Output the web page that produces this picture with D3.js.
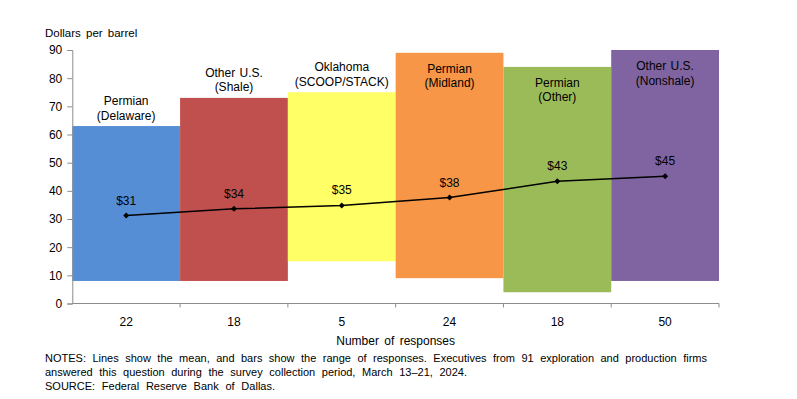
<!DOCTYPE html>
<html>
<head>
<meta charset="utf-8">
<script src="https://cdn.jsdelivr.net/npm/d3@7"></script>
<style>
  body { margin: 0; background: #fff; }
  svg text { font-family: "Liberation Sans", Arial, sans-serif; fill: #000; }
</style>
</head>
<body>
<div id="chart"></div>
<script>
// data
const regions = ["Permian\n(Delaware)", "Other U.S.\n(Shale)", "Oklahoma\n(SCOOP/STACK)",
    "Permian\n(Midland)", "Permian\n(Other)", "Other U.S.\n(Nonshale)"];
const responses = ["22", "18", "5", "24", "18", "50"];
const lows = [8, 8, 15, 9, 4, 8];
const highs = [63, 73, 75, 89, 84, 90];
const means = [31.2, 33.6, 34.8, 37.6, 43.4, 45.2];
const colors = ["#558ed5", "#c0504d", "#ffff66", "#f79646", "#9bbb59", "#8064a2"];
const yTicks = [0, 10, 20, 30, 40, 50, 60, 70, 80, 90];
const notes = [
    "NOTES: Lines show the mean, and bars show the range of responses. Executives from 91 exploration and production firms",
    "answered this question during the survey collection period, March 13\u201321, 2024.",
    "SOURCE: Federal Reserve Bank of Dallas."
];

const width = 797, height = 399;
const margin = { top: 50, right: 78, bottom: 95.5, left: 72.3 };

const svg = d3.select("#chart").append("svg")
    .attr("width", width).attr("height", height);

const x = d3.scaleBand().domain(d3.range(regions.length))
    .range([margin.left, width - margin.right]).padding(0);
const y = d3.scaleLinear().domain([0, 90])
    .range([height - margin.bottom, margin.top]);

// range bars
svg.append("g").selectAll("rect")
    .data(regions)
    .join("rect")
    .attr("x", (d, i) => x(i))
    .attr("width", x.bandwidth())
    .attr("y", (d, i) => y(highs[i]))
    .attr("height", (d, i) => y(lows[i]) - y(highs[i]))
    .attr("fill", (d, i) => colors[i]);

// region labels, above short bars and inside tall ones
const lab = svg.append("g").selectAll("text")
    .data(regions)
    .join("text")
    .attr("text-anchor", "middle")
    .attr("font-size", 12)
    .attr("word-spacing", 1)
    .attr("x", (d, i) => x(i) + x.bandwidth() / 2);
lab.each(function (d, i) {
    const top = y(highs[i]);
    const base = highs[i] > 80 ? top + 20 : top - 21;
    d.split("\n").forEach((line, k) => {
        d3.select(this).append("tspan")
            .attr("x", x(i) + x.bandwidth() / 2)
            .attr("y", base + k * 14.5)
            .text(line);
    });
});

// y axis
const yAxis = svg.append("g")
    .attr("transform", `translate(${margin.left},0)`)
    .call(d3.axisLeft(y).tickValues(yTicks).tickSize(5).tickPadding(5));
yAxis.select(".domain").attr("stroke", "#8c8c8c");
yAxis.selectAll(".tick line").attr("stroke", "#8c8c8c");
yAxis.selectAll(".tick text").attr("font-size", 12).attr("fill", "#000")
    .attr("font-family", "Liberation Sans, Arial, sans-serif");

// x axis with ticks at the band edges
const base = y(0);
svg.append("line")
    .attr("x1", margin.left).attr("x2", width - margin.right)
    .attr("y1", base).attr("y2", base)
    .attr("stroke", "#8c8c8c");
svg.append("g").selectAll("line")
    .data(d3.range(regions.length))
    .join("line")
    .attr("x1", i => x(i) + x.bandwidth()).attr("x2", i => x(i) + x.bandwidth())
    .attr("y1", base).attr("y2", base + 4)
    .attr("stroke", "#8c8c8c");
svg.append("g").selectAll("text")
    .data(responses)
    .join("text")
    .attr("x", (d, i) => x(i) + x.bandwidth() / 2)
    .attr("y", base + 22)
    .attr("text-anchor", "middle")
    .attr("font-size", 12)
    .text(d => d);

svg.append("text")
    .attr("x", (margin.left + width - margin.right) / 2)
    .attr("y", base + 41)
    .attr("text-anchor", "middle")
    .attr("font-size", 12)
    .attr("word-spacing", 2)
    .text("Number of responses");

svg.append("text")
    .attr("x", 45).attr("y", 37)
    .attr("font-size", 11.5)
    .attr("word-spacing", 2)
    .text("Dollars per barrel");

// mean line
const line = d3.line()
    .x((d, i) => x(i) + x.bandwidth() / 2)
    .y(d => y(d));
svg.append("path")
    .datum(means)
    .attr("d", line)
    .attr("fill", "none")
    .attr("stroke", "#000")
    .attr("stroke-width", 1.5);
svg.append("g").selectAll("path")
    .data(means)
    .join("path")
    .attr("d", d3.symbol(d3.symbolSquare, 18))
    .attr("transform", (d, i) => `translate(${x(i) + x.bandwidth() / 2},${y(d)}) rotate(45)`)
    .attr("fill", "#000");
svg.append("g").selectAll("text")
    .data(means)
    .join("text")
    .attr("x", (d, i) => x(i) + x.bandwidth() / 2)
    .attr("y", d => y(d) - 11)
    .attr("text-anchor", "middle")
    .attr("font-size", 12)
    .text(d => "$" + d3.format(".0f")(d));

// notes, stretched like the justified original
const targets = [707, 467, 275];
svg.append("g").selectAll("text")
    .data(notes)
    .join("text")
    .attr("x", 45)
    .attr("y", (d, i) => 362 + i * 14)
    .attr("font-size", 11)
    .text(d => d)
    .each(function (d, i) {
        const w = this.getComputedTextLength();
        const gaps = d.split(" ").length - 1;
        const extra = Math.max(0, (targets[i] - 45 - w) / gaps);
        d3.select(this).attr("word-spacing", extra);
    });
</script>
</body>
</html>
